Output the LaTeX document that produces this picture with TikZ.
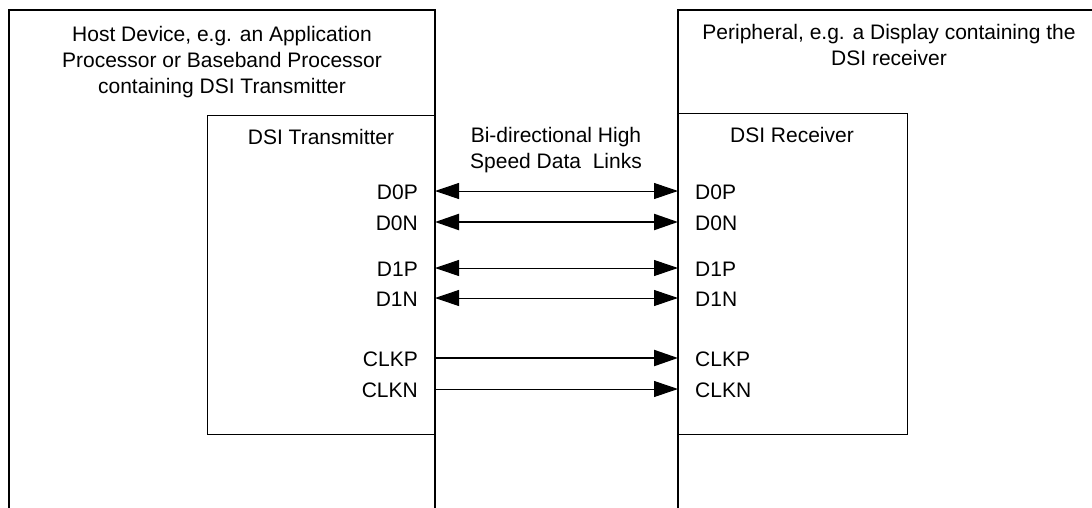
\documentclass[tikz,border=0pt]{standalone}
\usepackage{fontspec}
\setmainfont{Liberation Sans}
\usetikzlibrary{arrows.meta}
\begin{document}
\begin{tikzpicture}[x=1pt,y=-1pt,
  box/.style={draw=black,line width=1.3pt},
  lbl/.style={inner sep=0pt,font=\fontsize{21}{26}\selectfont},
  linkthin/.style={line width=1pt},
  linkthick/.style={line width=2.2pt},
  bidir/.style={{Triangle[length=24pt,width=16pt]}-{Triangle[length=24pt,width=16pt]}},
  unidir/.style={-{Triangle[length=24pt,width=16pt]}}
]
\useasboundingbox (0,0) rectangle (1092,507);
\clip (0,0) rectangle (1092,507);
% outer boxes (open at the bottom / right)
\draw[box] (9,520) -- (9,10) -- (435,10) -- (435,520);
\draw[box] (678,520) -- (678,10) -- (1100,10);
% inner boxes
\node[box, minimum width=228pt, minimum height=319pt, inner sep=0pt, anchor=north west] (tx) at (207,115) {};
\node[box, minimum width=229pt, minimum height=321pt, inner sep=0pt, anchor=north west] (rx) at (678,113) {};
% texts (anchor=base is the baseline of the last line)
\node[lbl, align=center, anchor=base] (hosttxt) at (222,93) {Host Device, e.g. an Application\\Processor or Baseband Processor\\containing DSI Transmitter};
\node[lbl, align=center, anchor=base] (periphtxt) at (889,65) {Peripheral, e.g. a Display containing the\\DSI receiver};
\node[lbl, anchor=base] (txtitle) at (321,144) {DSI Transmitter};
\node[lbl, anchor=base] (rxtitle) at (792,142) {DSI Receiver};
\node[lbl, align=center, anchor=base] (linktxt) at (556,168) {Bi-directional High\\Speed Data\ \ Links};
% pin labels
\node[lbl, anchor=base east] (tD0P) at (418,199) {D0P};
\node[lbl, anchor=base east] (tD0N) at (418,230) {D0N};
\node[lbl, anchor=base east] (tD1P) at (418,276) {D1P};
\node[lbl, anchor=base east] (tD1N) at (418,306) {D1N};
\node[lbl, anchor=base east] (tCLKP) at (418,366) {CLKP};
\node[lbl, anchor=base east] (tCLKN) at (418,397) {CLKN};
\node[lbl, anchor=base west] (rD0P) at (695,199) {D0P};
\node[lbl, anchor=base west] (rD0N) at (695,230) {D0N};
\node[lbl, anchor=base west] (rD1P) at (695,276) {D1P};
\node[lbl, anchor=base west] (rD1N) at (695,306) {D1N};
\node[lbl, anchor=base west] (rCLKP) at (695,366) {CLKP};
\node[lbl, anchor=base west] (rCLKN) at (695,397) {CLKN};
% link end points
\coordinate (a0p) at (435,191); \coordinate (b0p) at (678,191);
\coordinate (a0n) at (435,222); \coordinate (b0n) at (678,222);
\coordinate (a1p) at (435,268); \coordinate (b1p) at (678,268);
\coordinate (a1n) at (435,298); \coordinate (b1n) at (678,298);
\coordinate (acp) at (435,358); \coordinate (bcp) at (678,358);
\coordinate (acn) at (435,389); \coordinate (bcn) at (678,389);
% links
\draw[linkthin, bidir] (a0p) -- (b0p);
\draw[linkthick, bidir] (a0n) -- (b0n);
\draw[linkthin, bidir] (a1p) -- (b1p);
\draw[linkthin, bidir] (a1n) -- (b1n);
\draw[linkthick, unidir] (acp) -- (bcp);
\draw[linkthin, unidir] (acn) -- (bcn);
\end{tikzpicture}
\end{document}
